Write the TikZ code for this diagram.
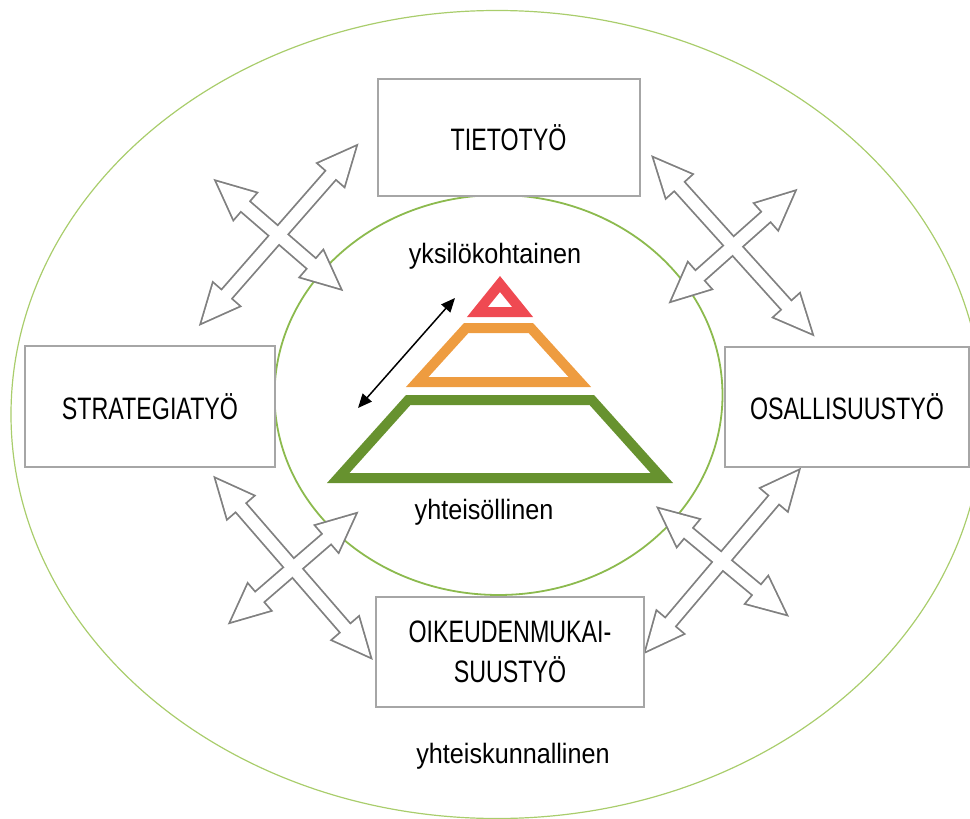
\documentclass[tikz,border=0pt]{standalone}
\usepackage{fontspec}
\setmainfont{Liberation Sans}
\newfontfamily\boxfont[FakeStretch=0.75]{Liberation Sans}
\newfontfamily\labfont[FakeStretch=0.9]{Liberation Sans}
\usetikzlibrary{calc,arrows.meta}
\definecolor{outergreen}{HTML}{A9CD6C}
\definecolor{innergreen}{HTML}{8CBA4E}
\definecolor{boxgray}{HTML}{A6A6A6}
\definecolor{arrgray}{HTML}{808080}
\definecolor{pyrred}{HTML}{EF4A52}
\definecolor{pyrorange}{HTML}{EE9C40}
\definecolor{pyrgreen}{HTML}{67922F}
\newcommand\arrHL{37pt}
\newcommand\arrHW{17pt}
\newcommand\arrSW{6pt}
\newcommand\blockarrow[3]{%
  \path[#1] (#2)
   -- ($($(#2)!\arrHL!(#3)$)!\arrHW!90:(#3)$)
   -- ($($(#2)!\arrHL!(#3)$)!\arrSW!90:(#3)$)
   -- ($($(#3)!\arrHL!(#2)$)!\arrSW!-90:(#2)$)
   -- ($($(#3)!\arrHL!(#2)$)!\arrHW!-90:(#2)$)
   -- (#3)
   -- ($($(#3)!\arrHL!(#2)$)!\arrHW!90:(#2)$)
   -- ($($(#3)!\arrHL!(#2)$)!\arrSW!90:(#2)$)
   -- ($($(#2)!\arrHL!(#3)$)!\arrSW!-90:(#3)$)
   -- ($($(#2)!\arrHL!(#3)$)!\arrHW!-90:(#3)$)
   -- cycle;}
\tikzset{
  workbox/.style={draw=boxgray, line width=2pt, fill=white, inner sep=0pt,
    font=\boxfont\fontsize{31}{40}\selectfont, align=center},
  levellabel/.style={font=\labfont\fontsize{28}{32}\selectfont, anchor=base, inner sep=0pt},
  arrstroke/.style={draw=arrgray, line width=3.6pt, line join=miter},
  arrfill/.style={fill=white},
  pyr/.style={line width=10pt, line join=miter, miter limit=20}
}
\begin{document}
\begin{tikzpicture}[x=1pt,y=-1pt]
\useasboundingbox (0,0) rectangle (970,819);
\clip (0,0) rectangle (970,819);
% ellipses
\draw[outergreen, line width=1.2pt] (497,414.5) ellipse [x radius=486, y radius=404];
\draw[innergreen, line width=1.8pt] (498.5,395) ellipse [x radius=224, y radius=200];
% arrow end points
\coordinate (A1) at (355.7,146.7); \coordinate (A2) at (201.7,322.7);
\coordinate (B1) at (216.7,181.7); \coordinate (B2) at (340,288.3);
\coordinate (C1) at (654,158.3);   \coordinate (C2) at (811.7,333.3);
\coordinate (D1) at (794.3,191.7); \coordinate (D2) at (671.7,300.7);
\coordinate (E1) at (216,479);     \coordinate (E2) at (370,656.7);
\coordinate (F1) at (355.3,514.3); \coordinate (F2) at (231,621.7);
\coordinate (G1) at (798.3,471);   \coordinate (G2) at (646,651);
\coordinate (H1) at (659.3,509);   \coordinate (H2) at (785.7,614);
% outlines (thick) then white fill for union look
\blockarrow{arrstroke}{A1}{A2}\blockarrow{arrstroke}{B1}{B2}
\blockarrow{arrstroke}{C1}{C2}\blockarrow{arrstroke}{D1}{D2}
\blockarrow{arrstroke}{E1}{E2}\blockarrow{arrstroke}{F1}{F2}
\blockarrow{arrstroke}{G1}{G2}\blockarrow{arrstroke}{H1}{H2}
\blockarrow{arrfill}{A1}{A2}\blockarrow{arrfill}{B1}{B2}
\blockarrow{arrfill}{C1}{C2}\blockarrow{arrfill}{D1}{D2}
\blockarrow{arrfill}{E1}{E2}\blockarrow{arrfill}{F1}{F2}
\blockarrow{arrfill}{G1}{G2}\blockarrow{arrfill}{H1}{H2}
% boxes
\node[workbox, minimum width=262pt, minimum height=117pt] (tieto) at (508.5,137.5) {TIETOTYÖ};
\node[workbox, minimum width=250pt, minimum height=121pt] (strat) at (150,406.5) {STRATEGIATYÖ};
\node[workbox, minimum width=244pt, minimum height=120pt] (osall) at (847,407) {OSALLISUUSTYÖ};
\node[workbox, minimum width=268pt, minimum height=110pt] (oikeus) at (510,652) {OIKEUDENMUKAI-\\SUUSTYÖ};
% pyramid
\draw[pyr, pyrred] (500,284) -- (522.6,312) -- (477.4,312) -- cycle;
\draw[pyr, pyrorange] (466.2,328) -- (530.8,328) -- (579.8,382) -- (417.2,382) -- cycle;
\draw[pyr, pyrgreen] (408.2,400) -- (591.8,400) -- (661.8,478) -- (338.2,478) -- cycle;
% black double arrow
\coordinate (bk1) at (455,298);
\coordinate (bk2) at (358,408);
\draw[line width=1.5pt, {Triangle[length=14pt,width=12pt]}-{Triangle[length=14pt,width=12pt]}] (bk1) -- (bk2);
% labels
\node[levellabel] (yks) at (495,263) {yksilökohtainen};
\node[levellabel] (yht) at (484,519) {yhteisöllinen};
\node[levellabel] (yhk) at (513,763) {yhteiskunnallinen};
\end{tikzpicture}
\end{document}
